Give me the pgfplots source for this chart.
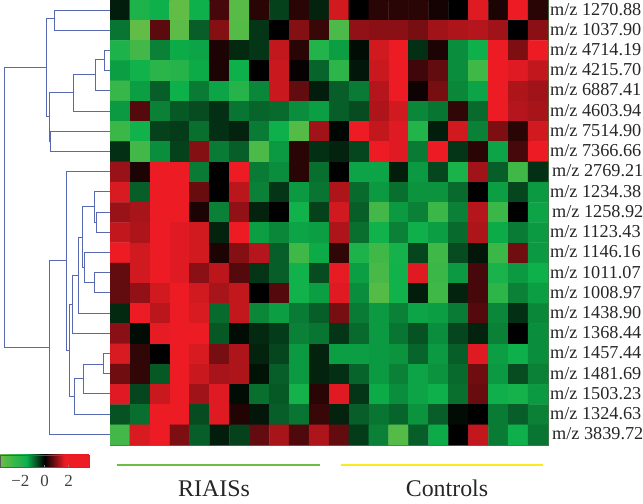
\documentclass[border=0pt]{standalone}
\usepackage{fontspec}
\setmainfont{Liberation Serif}
\usepackage{pgfplots}
\pgfplotsset{compat=1.18}
\definecolor{denblue}{RGB}{88,105,180}
\definecolor{barg}{RGB}{108,190,70}
\definecolor{bary}{RGB}{250,235,30}
\pgfplotsset{colormap={rg}{rgb255(0pt)=(105,190,70); rgb255(22pt)=(13,176,75); rgb255(37pt)=(0,0,0); rgb255(54pt)=(237,28,36); rgb255(74pt)=(237,28,36)},
    den/.style={no marks, denblue, line width=1bp, solid}}
\newcommand{\lab}{\fontsize{18.3}{20}\selectfont}
\begin{document}
\begin{tikzpicture}
\path[use as bounding box] (0,0) rectangle (643bp,504bp);
% canvas in image pixels: dendrogram, group bars, group names
\begin{axis}[
    at={(0,0)}, anchor=south west,
    width=643bp, height=504bp, scale only axis,
    xmin=0, xmax=643, ymin=0, ymax=504, y dir=reverse,
    hide axis, clip=false,
]
\addplot[den] coordinates {(110,10.1) (54.7,10.1) (54.7,30.3) (110,30.3)};
\addplot[den] coordinates {(110,50.5) (104.7,50.5) (104.7,70.7) (110,70.7)};
\addplot[den] coordinates {(104.7,60) (95,60) (95,90.9) (110,90.9)};
\addplot[den] coordinates {(95,75) (73.3,75) (73.3,111.1) (110,111.1)};
\addplot[den] coordinates {(110,131.3) (50.3,131.3) (50.3,151.5) (110,151.5)};
\addplot[den] coordinates {(73.3,92.7) (49,92.7) (49,141) (50.3,141)};
\addplot[den] coordinates {(54.7,19) (46.3,19) (46.3,116.7) (49,116.7)};
\addplot[den] coordinates {(46.3,67.7) (4.5,67.7) (4.5,347) (49.3,347)};
\addplot[den] coordinates {(110,212.1) (96.7,212.1) (96.7,232.3) (110,232.3)};
\addplot[den] coordinates {(110,191.9) (94,191.9) (94,222.7) (96.7,222.7)};
\addplot[den] coordinates {(110,272.7) (94,272.7) (94,292.9) (110,292.9)};
\addplot[den] coordinates {(110,252.5) (84.3,252.5) (84.3,282.3) (94,282.3)};
\addplot[den] coordinates {(94,206) (82.7,206) (82.7,267.3) (84.3,267.3)};
\addplot[den] coordinates {(82.7,237.3) (78.7,237.3) (78.7,313.1) (110,313.1)};
\addplot[den] coordinates {(78.7,275.3) (72.3,275.3) (72.3,333.3) (110,333.3)};
\addplot[den] coordinates {(110,353.5) (103.3,353.5) (103.3,373.7) (110,373.7)};
\addplot[den] coordinates {(103.3,364) (83,364) (83,393.9) (110,393.9)};
\addplot[den] coordinates {(83,378.3) (74.7,378.3) (74.7,414.1) (110,414.1)};
\addplot[den] coordinates {(72.3,304.3) (69.3,304.3) (69.3,396) (74.7,396)};
\addplot[den] coordinates {(110,171.7) (66.7,171.7) (66.7,350) (69.3,350)};
\addplot[den] coordinates {(66.7,260.7) (49.3,260.7) (49.3,434.3) (110,434.3)};
\addplot[barg, line width=2bp] coordinates {(116.7,464.7) (320,464.7)};
\addplot[bary, line width=2bp] coordinates {(340.7,464.7) (543,464.7)};
\node[font=\fontsize{24}{26}\selectfont, text=black!85] at (axis cs:214,489) {RIAISs};
\node[font=\fontsize{24}{26}\selectfont, text=black!85] at (axis cs:447,488) {Controls};
\end{axis}
% heat map with its colour bar
\begin{axis}[
    at={(110bp,59bp)}, anchor=south west,
    width=438bp, height=445bp, scale only axis,
    xmin=-0.5, xmax=21.5, ymin=-0.5, ymax=21.5, y dir=reverse,
    xtick=\empty,
    ytick={0,1,...,21},
    yticklabels={m/z 1270.88, m/z 1037.90, m/z 4714.19, m/z 4215.70, m/z 6887.41, m/z 4603.94, m/z 7514.90, m/z 7366.66, \hspace{2bp}m/z 2769.21, m/z 1234.38, \hspace{2bp}m/z 1258.92, m/z 1123.43, m/z 1146.16, m/z 1011.07, m/z 1008.97, m/z 1438.90, m/z 1368.44, m/z 1457.44, m/z 1481.69, m/z 1503.23, m/z 1324.63, \hspace{2bp}m/z 3839.72},
    yticklabel pos=right,
    yticklabel style={font=\lab, anchor=west, inner sep=0pt, xshift=2bp, yshift=1bp, text=black!85},
    tick style={draw=none},
    major tick length=0pt,
    axis line style={draw=black!55!green!40!gray, line width=0.4bp},
    colormap name=rg,
    point meta min=-3.7, point meta max=3.7,
    colorbar horizontal,
    colorbar shift/.style={},
    colorbar style={
        at={(parent axis.south west)},
        anchor=north west,
        xshift=-110bp, yshift=-10bp,
        scale only axis,
        width=89bp, height=12bp,
        xtick={-2,0,2},
        xticklabels={−2,0,2},
        xticklabel style={font=\fontsize{17}{19}\selectfont, text=black!75, inner sep=0pt, yshift=-8bp},
        major tick length=1.5bp,
        tick style={draw=black!50},
        axis line style={draw=black!65, line width=0.5bp},
    },
]
\addplot[matrix plot*, mesh/cols=22, point meta=\thisrowno{0}]
table[row sep=\\, header=false, x expr={\coordindex-22*floor((\coordindex+0.5)/22)}, y expr={floor((\coordindex+0.5)/22)}] {
-.25\\-1.9\\-1.5\\-3.5\\-1.5\\.5\\-3.3\\.3\\-.55\\.3\\-.3\\1.5\\0\\.3\\.3\\.3\\.15\\0\\1.6\\.2\\1.8\\.3\\
-1\\-3.5\\.65\\-3.4\\-.8\\.95\\-3.2\\-.45\\0\\.95\\.4\\-3\\1.05\\1\\1\\.85\\1.15\\1.25\\1.3\\1.15\\0\\1\\
-1.9\\-2.8\\-1.1\\-1.45\\-1.4\\.2\\-.35\\-.45\\1.4\\.3\\-2\\-1.35\\-.1\\1.5\\1.8\\-.4\\.2\\-1.2\\-1.5\\1.8\\.9\\1.8\\
-1.35\\-1.6\\-2.2\\-2.1\\-1.45\\.2\\-1.5\\0\\1.45\\.05\\-.85\\-2.3\\-.2\\1.45\\1.8\\.45\\.7\\-1.2\\-2.7\\1.8\\1.6\\1.4\\
-2.5\\-1.35\\-.8\\-1.5\\-1.05\\-1.4\\-2.1\\-1.15\\1.45\\.7\\-.25\\-.8\\-1.05\\1.3\\1.8\\.1\\.85\\-1.15\\-1.4\\1.8\\1.25\\1.15\\
-1.3\\.6\\-1.1\\-.75\\-.65\\-.4\\-1\\-.85\\-.9\\-1.2\\-1.35\\-.8\\-.65\\1.25\\1.5\\-1.15\\-1\\.35\\-.9\\1.8\\1.3\\1.2\\
-2.6\\-1.6\\-.55\\-.5\\-.95\\-.4\\-.3\\-1.05\\-1.5\\-3.2\\1.15\\-.05\\1.8\\1.4\\1.6\\-2\\-.25\\1.5\\-1.1\\.9\\.3\\1.5\\
-.4\\-2.8\\-1.2\\-.55\\.95\\-1.05\\-.8\\-3\\-1.3\\.3\\-.4\\-.3\\-.6\\1.8\\1.6\\-1.05\\1.8\\-.45\\.3\\-1.4\\.5\\1.8\\
1.1\\.2\\1.8\\1.8\\-1.05\\0\\1.8\\-1.05\\-1.2\\.3\\-.95\\0\\-1.4\\-1.4\\-.25\\-1.3\\-.6\\-1.8\\1.15\\-.8\\-2.7\\-.4\\
1.55\\-.8\\1.8\\1.8\\.75\\0\\1.35\\-1.1\\-.45\\-1.3\\-1\\1.25\\-.9\\-1.3\\-.95\\-1.25\\-1.25\\-.9\\0\\-1.35\\-.6\\-1.3\\
1.1\\1.2\\1.8\\1.8\\.2\\-1.1\\1.05\\-.3\\0\\-1.6\\-.55\\1.5\\-.8\\-2.8\\-1.3\\-1.1\\-2.6\\-1.1\\1.3\\-2.6\\0\\-1.4\\
1.4\\1.25\\1.8\\1.6\\1.5\\-.3\\1.8\\-1.35\\-1.15\\-1.4\\-1.35\\1.25\\-.95\\-1.6\\-1.1\\-1.55\\-1.35\\-.9\\1.25\\-1.45\\-1.05\\-1.3\\
1.8\\1.5\\1.8\\1.6\\1.5\\.2\\.95\\1.3\\-.8\\-2.7\\-1.45\\.35\\-1.9\\-2.7\\-1.7\\-.6\\-2.7\\-.65\\-.2\\-2.6\\.8\\-1.3\\
.7\\1.5\\1.8\\1.6\\1\\1.35\\.6\\-.45\\-.8\\-1.6\\-.65\\1.65\\-1.35\\-2.9\\-1.6\\1.6\\-2.6\\-1.3\\.5\\-1.8\\-1.3\\-1.5\\
.7\\1.05\\1.5\\1.8\\1.5\\1.2\\1.4\\0\\.6\\-1.6\\-1.35\\1.6\\-1.2\\-3.2\\-1.6\\-.25\\-2.7\\-.3\\.5\\-2.3\\-1.1\\-1.35\\
-.35\\1.8\\1.35\\1.8\\1.55\\-.9\\1.4\\-1.15\\-1.35\\-1.05\\-.8\\.85\\-1.05\\-1.3\\-1.1\\-1.4\\-1.35\\-1.05\\.6\\-1.15\\-.4\\-1.15\\
1\\-.1\\1.65\\1.8\\1.8\\-.75\\-.1\\-.35\\-.5\\-1.1\\-1\\-.45\\-.9\\-1.3\\-1\\-.7\\-1.2\\-.6\\-.3\\-1.1\\0\\-1.2\\
1.55\\.35\\0\\1.8\\1.55\\.85\\1.25\\-.3\\-.6\\-1.3\\-.3\\-1.35\\-1.35\\-1.3\\-1.25\\-.85\\-1.3\\-.8\\1.6\\-1.35\\-1.5\\-1.2\\
.8\\.35\\-.75\\1.8\\1.45\\1.2\\1.25\\-.15\\-.8\\-1.3\\-.3\\-.4\\-.85\\-1.3\\-1.1\\-1.4\\-1.25\\-.9\\.8\\-1.3\\-.65\\-1.1\\
1.6\\-.6\\1.45\\1.8\\1.15\\1.6\\-.1\\-.95\\-.75\\-1.7\\.3\\1.6\\-.45\\-1.45\\-1.2\\-1.4\\-1.5\\-.95\\.75\\-1.55\\-1.7\\-1.3\\
-.7\\-.95\\1.8\\1.8\\-.65\\1.6\\.25\\-.2\\-.8\\-1\\.4\\-.3\\-.8\\-1\\-.85\\-1.25\\-.8\\-.1\\0\\-1.05\\-.8\\-1.1\\
-2.8\\1.55\\1.8\\.9\\-.8\\-.25\\-.55\\.7\\1.2\\.55\\1.25\\.7\\-.5\\-1.1\\-3.2\\-.8\\-1.45\\0\\1.4\\-1.05\\-1.55\\-1\\
};
\end{axis}
\end{tikzpicture}
\end{document}
